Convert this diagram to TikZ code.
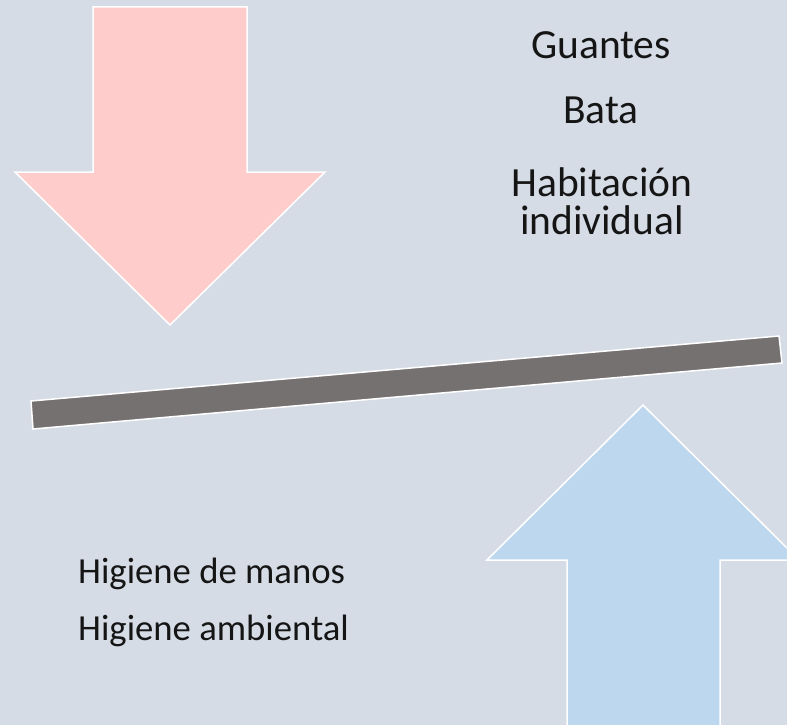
\documentclass[tikz,border=0pt]{standalone}
\usepackage{fontspec}
\setmainfont{Carlito}
\definecolor{bg}{HTML}{D6DCE5}
\definecolor{pinkfill}{HTML}{FFCCCC}
\definecolor{bluefill}{HTML}{BDD7EE}
\definecolor{barfill}{HTML}{757171}
\definecolor{txt}{HTML}{151515}
\tikzset{
  shapeline/.style={draw=white, line width=1.5pt, line join=miter},
  toptext/.style={anchor=base, font=\fontsize{41.5}{44}\selectfont, text=txt, inner sep=0pt},
  bottext/.style={anchor=base west, font=\fontsize{36.7}{40}\selectfont, text=txt, inner sep=0pt}
}
\begin{document}
\begin{tikzpicture}[x=1pt,y=-1pt]
\useasboundingbox (0,0) rectangle (787,725);
\fill[bg] (0,0) rectangle (787,725);
\begin{scope}
\clip (0,0) rectangle (787,725);
% pink down arrow
\path[shapeline, fill=pinkfill] (93,7) -- (247,7) -- (247,172) -- (325,172) -- (170,325) -- (15,172) -- (93,172) -- cycle;
% blue up arrow
\path[shapeline, fill=bluefill] (643,405) -- (799,560) -- (720,560) -- (720,740) -- (567,740) -- (567,560) -- (487,560) -- cycle;
% bar
\path[shapeline, fill=barfill] (31,401) -- (779,336) -- (782,363) -- (33,429) -- cycle;
\end{scope}
\node[toptext] (g) at (601,59) {Guantes};
\node[toptext] (b) at (601,123) {Bata};
\node[toptext] (h) at (602,196) {Habitación};
\node[toptext] (i) at (602,234) {individual};
\node[bottext] (m) at (78,583) {Higiene de manos};
\node[bottext] (a) at (78,640) {Higiene ambiental};
\end{tikzpicture}
\end{document}
